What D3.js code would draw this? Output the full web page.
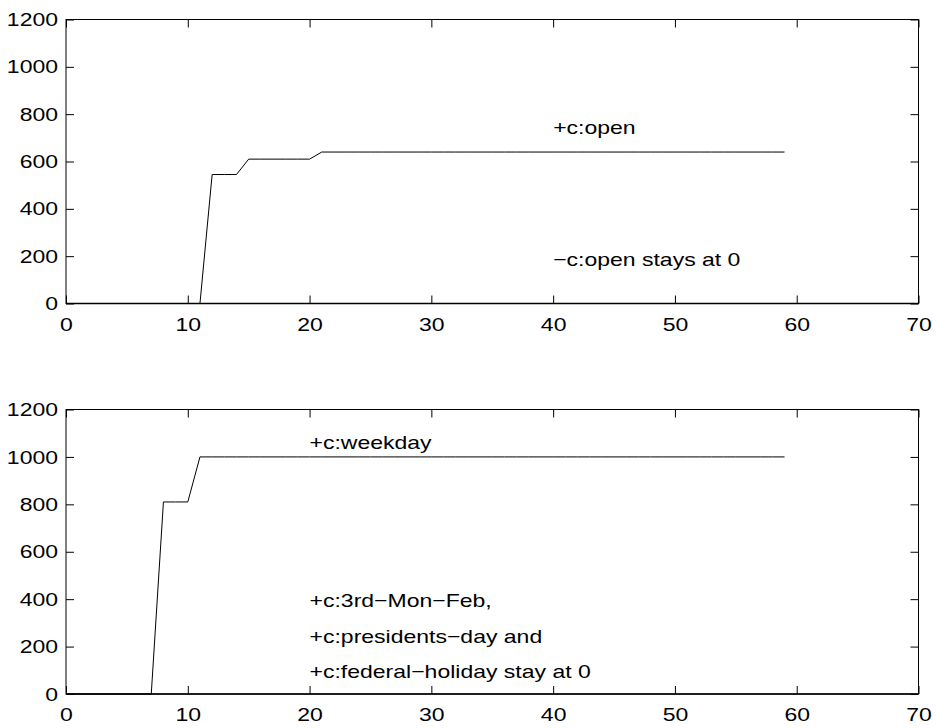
<!DOCTYPE html>
<html>
<head>
<meta charset="utf-8">
<script src="https://cdn.jsdelivr.net/npm/d3@7"></script>
<style>
  body { margin: 0; background: #fff; }
  svg { display: block; }
  text { font-family: "Liberation Sans", Arial, sans-serif; font-size: 19px; fill: #000; }
</style>
</head>
<body>
<svg id="chart" width="936" height="728"></svg>
<script>
// x positions 0..59
const days = d3.range(0, 60);

// top panel: +c:open
const openValues = [
  0, 0, 0, 0, 0, 0, 0, 0, 0, 0,
  0, 0, 545, 545, 545, 610, 610, 610, 610, 610,
  610, 640, 640, 640, 640, 640, 640, 640, 640, 640,
  640, 640, 640, 640, 640, 640, 640, 640, 640, 640,
  640, 640, 640, 640, 640, 640, 640, 640, 640, 640,
  640, 640, 640, 640, 640, 640, 640, 640, 640, 640
];

// bottom panel: +c:weekday
const weekdayValues = [
  0, 0, 0, 0, 0, 0, 0, 0, 810, 810,
  810, 1000, 1000, 1000, 1000, 1000, 1000, 1000, 1000, 1000,
  1000, 1000, 1000, 1000, 1000, 1000, 1000, 1000, 1000, 1000,
  1000, 1000, 1000, 1000, 1000, 1000, 1000, 1000, 1000, 1000,
  1000, 1000, 1000, 1000, 1000, 1000, 1000, 1000, 1000, 1000,
  1000, 1000, 1000, 1000, 1000, 1000, 1000, 1000, 1000, 1000
];

const xTicks = [0, 10, 20, 30, 40, 50, 60, 70];
const yTicks = [0, 200, 400, 600, 800, 1000, 1200];

const topNotes = [
  { x: 40, y: 718, text: '+c:open' },
  { x: 40, y: 160, text: '\u2212c:open stays at 0' }
];
const bottomNotes = [
  { x: 20, y: 1035, text: '+c:weekday' },
  { x: 20, y: 365, text: '+c:3rd\u2212Mon\u2212Feb,' },
  { x: 20, y: 217, text: '+c:presidents\u2212day and' },
  { x: 20, y: 69, text: '+c:federal\u2212holiday stay at 0' }
];

const svg = d3.select('#chart');
const left = 66, right = 918.5;

const x = d3.scaleLinear().domain([0, 70]).range([left, right]);

function panel(top, bottom, values, notes) {
  const y = d3.scaleLinear().domain([0, 1200]).range([bottom, top]);
  const g = svg.append('g');

  // inward ticks on all four sides
  g.append('g')
    .attr('transform', `translate(0,${bottom})`)
    .call(d3.axisBottom(x).tickValues(xTicks).tickFormat(d3.format('d'))
      .tickSizeInner(-8).tickSizeOuter(0).tickPadding(14));
  g.append('g')
    .attr('transform', `translate(0,${top})`)
    .call(d3.axisTop(x).tickValues(xTicks).tickSizeInner(-8).tickSizeOuter(0).tickFormat(''));
  g.append('g')
    .attr('transform', `translate(${left},0)`)
    .call(d3.axisLeft(y).tickValues(yTicks).tickFormat(d3.format('d'))
      .tickSizeInner(-8).tickSizeOuter(0).tickPadding(8));
  g.append('g')
    .attr('transform', `translate(${right},0)`)
    .call(d3.axisRight(y).tickValues(yTicks).tickSizeInner(-8).tickSizeOuter(0).tickFormat(''));

  g.selectAll('.tick line').attr('stroke', '#000').attr('stroke-width', 1);
  g.selectAll('.domain').remove();
  g.selectAll('.tick text').style('font-size', '19px').style('font-family', '"Liberation Sans", Arial, sans-serif');

  g.append('rect')
    .attr('x', left).attr('y', top)
    .attr('width', right - left).attr('height', bottom - top)
    .attr('fill', 'none').attr('stroke', '#000').attr('stroke-width', 1);
  g.append('line')
    .attr('x1', left).attr('x2', right)
    .attr('y1', bottom).attr('y2', bottom)
    .attr('stroke', '#000').attr('stroke-width', 1.6);

  const line = d3.line().x((d, i) => x(days[i])).y(d => y(d));
  g.append('path')
    .datum(values)
    .attr('d', line)
    .attr('fill', 'none')
    .attr('stroke', '#000')
    .attr('stroke-width', 1);

  g.selectAll('.note')
    .data(notes)
    .enter().append('text')
    .attr('class', 'note')
    .attr('x', d => x(d.x))
    .attr('y', d => y(d.y))
    .text(d => d.text);
}

panel(19.5, 303.5, openValues, topNotes);
panel(409.5, 694, weekdayValues, bottomNotes);

// the source figure is stretched horizontally
svg.selectAll('text').each(function() {
  const w = this.getComputedTextLength();
  if (w > 0) {
    d3.select(this).attr('textLength', w * 1.21).attr('lengthAdjust', 'spacingAndGlyphs');
  }
});
</script>
</body>
</html>
